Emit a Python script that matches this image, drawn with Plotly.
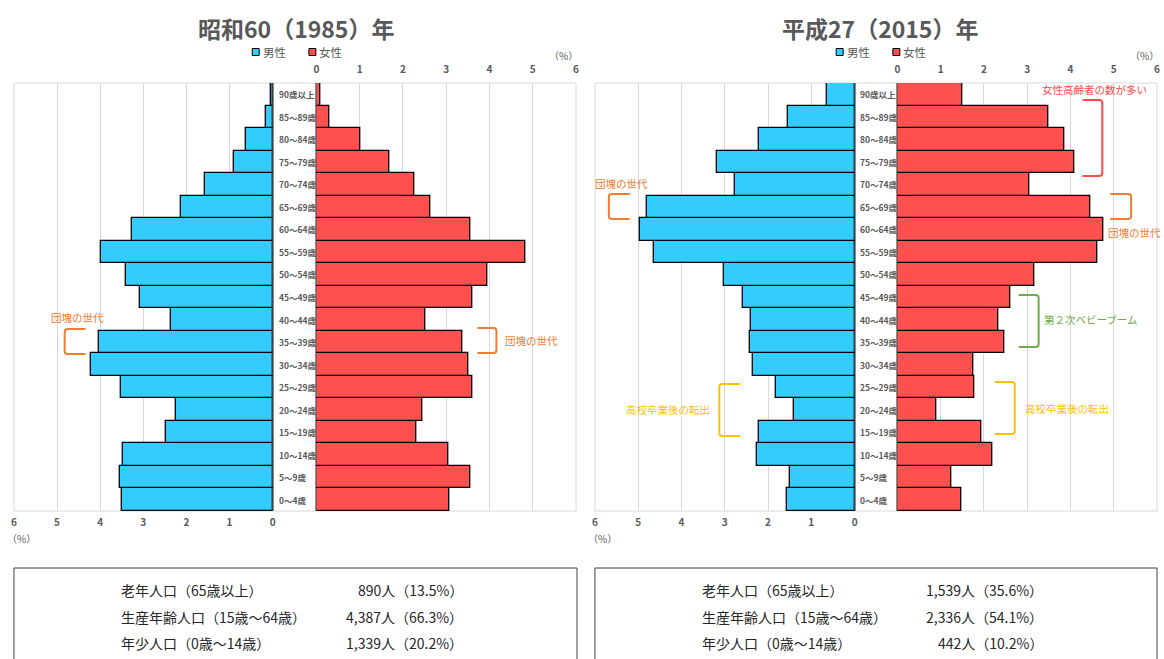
import plotly.graph_objects as go

W, H = 1164, 659

# ---------------- data ----------------
ages = ["0～4歳", "5～9歳", "10～14歳", "15～19歳", "20～24歳", "25～29歳", "30～34歳",
        "35～39歳", "40～44歳", "45～49歳", "50～54歳", "55～59歳", "60～64歳", "65～69歳",
        "70～74歳", "75～79歳", "80～84歳", "85～89歳", "90歳以上"]

male_1985 = [3.50, 3.55, 3.48, 2.47, 2.25, 3.52, 4.22, 4.02, 2.36, 3.07,
             3.40, 3.98, 3.26, 2.13, 1.58, 0.90, 0.61, 0.16, 0.05]
female_1985 = [3.08, 3.57, 3.06, 2.32, 2.46, 3.60, 3.52, 3.37, 2.52, 3.60,
               3.95, 4.82, 3.57, 2.64, 2.26, 1.68, 1.01, 0.31, 0.10]
male_2015 = [1.57, 1.49, 2.25, 2.22, 1.41, 1.81, 2.34, 2.41, 2.39, 2.59,
             3.01, 4.64, 4.97, 4.80, 2.77, 3.17, 2.22, 1.55, 0.64]
female_2015 = [1.49, 1.24, 2.20, 1.95, 0.89, 1.79, 1.76, 2.47, 2.34, 2.62,
               3.17, 4.61, 4.75, 4.45, 3.06, 4.09, 3.86, 3.50, 1.51]

tick_values = [0, 1, 2, 3, 4, 5, 6]
titles = ["昭和60（1985）年", "平成27（2015）年"]
legend_names = ["男性", "女性"]

summary_labels = ["老年人口（65歳以上）", "生産年齢人口（15歳～64歳）", "年少人口（0歳～14歳）"]
summary_1985 = ["890人（13.5%）", "4,387人（66.3%）", "1,339人（20.2%）"]
summary_2015 = ["1,539人（35.6%）", "2,336人（54.1%）", "442人（10.2%）"]

# ---------------- style ----------------
FONT = "Noto Sans CJK JP"
GRAY = "#595959"
BLUE = "#33CCFF"
RED = "#FF5050"
GRID = "#D9D9D9"
ORANGE = "#ED7D31"
GREEN = "#70AD47"
YELLOW = "#FFC000"
ALERT = "#FF4B4B"


def px(x):
    return x / W


def py(y):
    return 1 - y / H


PLOT_TOP, PLOT_BOT = 83, 511

panels = [
    dict(male=male_1985, female=female_1985, title=titles[0], summary=summary_1985,
         x0=11, xm=271, xf=315, x1=576, label_x=276, title_x=295,
         leg=(254, 311), box=(11, 577), sum_lab=117, sum_val=464),
    dict(male=male_2015, female=female_2015, title=titles[1], summary=summary_2015,
         x0=595, xm=856, xf=899, x1=1160, label_x=860, title_x=882,
         leg=(841, 898), box=(595, 1160), sum_lab=701, sum_val=1047),
]

fig = go.Figure()
layout = dict(
    width=W, height=H, margin=dict(l=0, r=0, t=0, b=0),
    paper_bgcolor="white", plot_bgcolor="rgba(0,0,0,0)",
    showlegend=False, barmode="overlay", bargap=0,
    font=dict(family=FONT, color=GRAY),
)
annotations = []
shapes = []

tickfont = dict(family=FONT, size=10, color=GRAY, weight="bold")

for i, p in enumerate(panels):
    xm_name = "x" if i == 0 else "x3"
    xf_name = "x2" if i == 0 else "x4"
    y_name = "y" if i == 0 else "y2"
    xm_key = "xaxis" if i == 0 else "xaxis3"
    xf_key = "xaxis2" if i == 0 else "xaxis4"
    y_key = "yaxis" if i == 0 else "yaxis2"

    fig.add_trace(go.Bar(
        x=p["male"], y=ages, orientation="h", xaxis=xm_name, yaxis=y_name,
        name=legend_names[0], width=1.0,
        marker=dict(color=BLUE, line=dict(color="black", width=1.3)),
    ))
    fig.add_trace(go.Bar(
        x=p["female"], y=ages, orientation="h", xaxis=xf_name, yaxis=y_name,
        name=legend_names[1], width=1.0,
        marker=dict(color=RED, line=dict(color="black", width=1.3)),
    ))

    common = dict(tickvals=tick_values, showgrid=True, gridcolor=GRID, gridwidth=1,
                  zeroline=True, zerolinecolor="#8C8C8C", zerolinewidth=2,
                  showline=False, ticks="", tickfont=tickfont, fixedrange=True,
                  anchor=y_name)
    layout[xm_key] = dict(domain=[px(p["x0"]), px(p["xm"])], range=[6, 0], side="bottom",
                          ticklabelstandoff=4, **common)
    layout[xf_key] = dict(domain=[px(p["xf"]), px(p["x1"])], range=[0, 6], side="top",
                          ticklabelstandoff=7, **common)
    layout[y_key] = dict(domain=[py(PLOT_BOT), py(PLOT_TOP)], type="category",
                         categoryorder="array", categoryarray=ages,
                         range=[-0.5, len(ages) - 0.5], showticklabels=False,
                         showgrid=False, zeroline=False, showline=False,
                         anchor=xm_name, fixedrange=True)

    # plot frame
    shapes.append(dict(type="rect", xref="paper", yref="paper",
                       x0=px(p["x0"]), x1=px(p["x1"]), y0=py(PLOT_BOT), y1=py(PLOT_TOP),
                       line=dict(color=GRID, width=1), layer="below"))

    # age labels in the centre gap
    for a in ages:
        annotations.append(dict(xref="paper", yref=y_name, x=px(p["label_x"]), y=a,
                                text=a, showarrow=False, xanchor="left", yanchor="middle",
                                borderpad=0,
                                font=dict(family=FONT, size=8.5, color=GRAY, weight="bold")))

    # title
    annotations.append(dict(xref="paper", yref="paper", x=px(p["title_x"]), y=py(28),
                            text=p["title"], showarrow=False, xanchor="center", yanchor="middle",
                            font=dict(family=FONT, size=23, color=GRAY, weight="bold")))

    # legend
    for k, (lx, col) in enumerate(zip(p["leg"], [BLUE, RED])):
        shapes.append(dict(type="rect", xref="paper", yref="paper",
                           x0=px(lx - 3.5), x1=px(lx + 3.5), y0=py(55.5), y1=py(48.5),
                           fillcolor=col, line=dict(color="black", width=1)))
        annotations.append(dict(xref="paper", yref="paper", x=px(lx + 5), y=py(52),
                                text=legend_names[k], showarrow=False, xanchor="left",
                                yanchor="middle",
                                font=dict(family=FONT, size=11.5, color=GRAY)))

    # (%) unit labels
    annotations.append(dict(xref="paper", yref="paper", x=px(p["x0"] + 8), y=py(538),
                            text="（%）", showarrow=False, xanchor="center", yanchor="middle",
                            font=dict(family=FONT, size=10, color=GRAY)))
    annotations.append(dict(xref="paper", yref="paper", x=px(p["x1"] - 13), y=py(55),
                            text="（%）", showarrow=False, xanchor="center", yanchor="middle",
                            borderpad=0,
                            font=dict(family=FONT, size=10, color=GRAY)))

    # summary box
    bx0, bx1 = p["box"]
    shapes.append(dict(type="rect", xref="paper", yref="paper",
                       x0=px(bx0), x1=px(bx1), y0=py(H + 20), y1=py(568),
                       line=dict(color="#404040", width=1)))
    for lab, val, yy in zip(summary_labels, p["summary"], [590, 617, 643]):
        annotations.append(dict(xref="paper", yref="paper", x=px(p["sum_lab"]), y=py(yy),
                                text=lab, showarrow=False, xanchor="left", yanchor="middle",
                                font=dict(family=FONT, size=14, color="#262626")))
        annotations.append(dict(xref="paper", yref="paper", x=px(p["sum_val"]), y=py(yy),
                                text=val, showarrow=False, xanchor="right", yanchor="middle",
                                font=dict(family=FONT, size=14, color="#262626")))


# ---------------- callout brackets and notes ----------------
def bracket(xv, xarm, ya, yb, color, r=3):
    d = 1 if xarm > xv else -1
    pts = (f"M {px(xarm)},{py(ya)} L {px(xv + d * r)},{py(ya)} "
           f"Q {px(xv)},{py(ya)} {px(xv)},{py(ya + r)} "
           f"L {px(xv)},{py(yb - r)} Q {px(xv)},{py(yb)} {px(xv + d * r)},{py(yb)} "
           f"L {px(xarm)},{py(yb)}")
    return dict(type="path", xref="paper", yref="paper", path=pts,
                line=dict(color=color, width=2))


notes = [
    # (text, x_center, y, color, bracket vertical x, arm x, y top, y bottom)
    ("団塊の世代", 75, 317, ORANGE, 62, 83, 329, 354),
    ("団塊の世代", 531, 340, ORANGE, 496, 477, 328, 353),
    ("女性高齢者の数が多い", 1097, 90, ALERT, 1105, 1085, 100, 176),
    ("団塊の世代", 622, 183, ORANGE, 609, 630, 194, 219),
    ("団塊の世代", 1137, 232, ORANGE, 1134, 1113, 194, 219),
    ("第２次ベビーブーム", 1094, 319, GREEN, 1041, 1021, 295, 347),
    ("高校卒業後の転出", 668, 409, YELLOW, 720, 741, 384, 436),
    ("高校卒業後の転出", 1070, 408, YELLOW, 1017, 997, 382, 434),
]
for text, tx, ty, col, xv, xa, ya, yb in notes:
    annotations.append(dict(xref="paper", yref="paper", x=px(tx), y=py(ty), text=text,
                            showarrow=False, xanchor="center", yanchor="middle",
                            font=dict(family=FONT, size=10.5, color=col)))
    shapes.append(bracket(xv, xa, ya, yb, col))

layout["annotations"] = annotations
layout["shapes"] = shapes
fig.update_layout(**layout)

fig.write_html("out.html")
